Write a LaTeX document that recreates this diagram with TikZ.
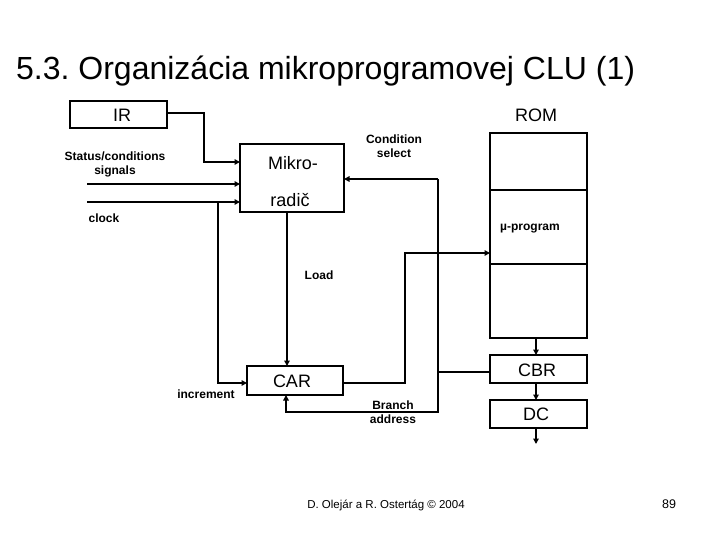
\documentclass[tikz,border=0pt]{standalone}
\usepackage{fontspec}
\setmainfont{Liberation Sans}
\usetikzlibrary{arrows.meta,calc}
\frenchspacing
\tikzset{
  box/.style={draw,line width=2pt,inner sep=0pt},
  wire/.style={line width=2pt},
  arr/.style={wire,-{Triangle[length=5.5pt,width=5.5pt]}},
  mid/.style={font=\fontsize{18}{20}\selectfont},
  lbl/.style={font=\fontsize{12}{14}\selectfont\bfseries,align=center,inner sep=0pt},
}
\begin{document}
\begin{tikzpicture}[x=1pt,y=-1pt]
\useasboundingbox (0,0) rectangle (720,540);
% title
\node[anchor=base west,inner sep=0pt,font=\fontsize{32}{36}\selectfont] (title) at (16,80) {5.3.\ Organizácia mikroprogramovej CLU (1)};
% boxes
\draw[box] (70,101) rectangle (167,128);
\node[mid] (irt) at (122,115) {IR};
\coordinate (irE) at (167,113);
\node[mid] (romt) at (536,115) {ROM};
\draw[box] (490,133) rectangle (587,338);
\draw[wire] (490,190) -- (587,190);
\draw[wire] (490,264) -- (587,264);
\node[lbl] (mup) at (530,229) {µ-program};
\coordinate (romW) at (490,253);
\coordinate (romS) at (536,338);
\draw[box] (240,144) rectangle (344,212);
\node[mid] (mk1) at (293,163) {Mikro-};
\node[mid] (mk2) at (290,200) {radič};
\draw[box] (247,366) rectangle (343,395);
\node[mid] (cart) at (292,381) {CAR};
\draw[box] (490,355) rectangle (587,383);
\node[mid] (cbrt) at (537,370) {CBR};
\draw[box] (490,400) rectangle (587,428);
\node[mid] (dct) at (536,414) {DC};
% labels
\node[lbl] (stat) at (115,164) {Status/conditions\\signals};
\node[lbl] (clk) at (104,218) {clock};
\node[lbl] (cond) at (394,146) {Condition\\select};
\node[lbl] (load) at (319,275) {Load};
\node[lbl] (inc) at (206,394) {increment};
\node[lbl] (br) at (393,412) {Branch\\address};
% coordinates
\coordinate (mkW1) at (240,162);
\coordinate (mkW2) at (240,184);
\coordinate (mkW3) at (240,202);
\coordinate (mkE) at (344,179);
\coordinate (mkS) at (287,212);
\coordinate (carN) at (287,366);
\coordinate (carW) at (247,383);
\coordinate (carE) at (343,383);
\coordinate (carS) at (286,395);
\coordinate (cbrN) at (536,355);
\coordinate (cbrS) at (536,383);
\coordinate (cbrW) at (490,372);
\coordinate (dcN) at (536,400);
\coordinate (dcS) at (536,428);
\coordinate (out) at (536,444);
\coordinate (st0) at (87,184);
\coordinate (ck0) at (87,202);
\coordinate (ckj) at (218,202);
\coordinate (ct) at (438,179);
\coordinate (cb) at (438,412);
\coordinate (cj) at (438,372);
% connectors
\draw[arr] (irE) -- (204,113) -- (204,162) -- (mkW1);
\draw[arr] (st0) -- (mkW2);
\draw[arr] (ck0) -- (mkW3);
\draw[arr] (ckj) |- (carW);
\draw[arr] (mkS) -- (carN);
\draw[arr] (ct) -- (mkE);
\draw[arr] (ct) -- (cb) -- (286,412) -- (carS);
\draw[wire] (cbrW) -- (cj);
\draw[arr] (carE) -- (405,383) -- (405,253) -- (romW);
\draw[arr] (romS) -- (cbrN);
\draw[arr] (cbrS) -- (dcN);
\draw[arr] (dcS) -- (out);
% footer
\node[anchor=base,inner sep=0pt,font=\fontsize{11.5}{13}\selectfont] (foot) at (386,508) {D. Olejár a R. Ostertág © 2004};
\node[anchor=base,inner sep=0pt,font=\fontsize{12.5}{14}\selectfont] (pg) at (669,508) {89};
\end{tikzpicture}
\end{document}
